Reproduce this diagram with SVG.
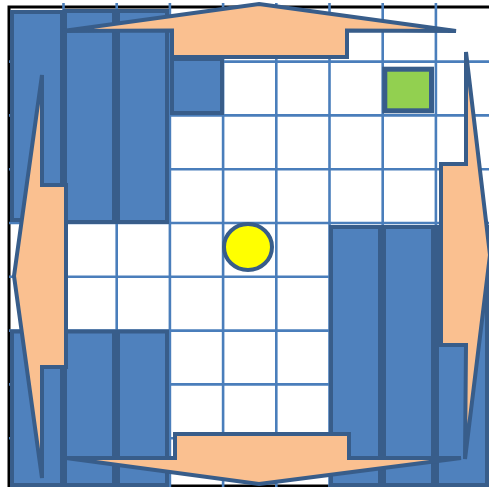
<svg xmlns="http://www.w3.org/2000/svg" width="489" height="487" viewBox="0 0 489 487">
<style>
.grid{stroke:#4A7EBB;stroke-width:2.6;fill:none}
.wall{fill:#4F81BD;stroke:#385D8A;stroke-width:4}
.arrow{fill:#FAC090;stroke:#385D8A;stroke-width:4;stroke-linejoin:miter;stroke-miterlimit:6}
</style>
<rect x="0" y="0" width="489" height="487" fill="#FFFFFF"/>
<rect id="frame" x="9" y="7" width="500" height="479" fill="none" stroke="#000000" stroke-width="3"/>
<g id="grid" class="grid">
<line x1="63.5" y1="3" x2="63.5" y2="487"/>
<line x1="116.7" y1="3" x2="116.7" y2="487"/>
<line x1="169.9" y1="3" x2="169.9" y2="487"/>
<line x1="223.1" y1="3" x2="223.1" y2="487"/>
<line x1="276.3" y1="3" x2="276.3" y2="487"/>
<line x1="329.5" y1="3" x2="329.5" y2="487"/>
<line x1="382.7" y1="3" x2="382.7" y2="487"/>
<line x1="435.9" y1="3" x2="435.9" y2="487"/>
<line x1="9" y1="61.6" x2="489" y2="61.6"/>
<line x1="9" y1="115.4" x2="489" y2="115.4"/>
<line x1="9" y1="169.2" x2="489" y2="169.2"/>
<line x1="9" y1="223" x2="489" y2="223"/>
<line x1="9" y1="276.8" x2="489" y2="276.8"/>
<line x1="9" y1="330.6" x2="489" y2="330.6"/>
<line x1="9" y1="384.4" x2="489" y2="384.4"/>
<line x1="9" y1="438.2" x2="489" y2="438.2"/>
</g>
<g id="wall-a"><rect class="wall" x="12" y="12" width="50" height="208"/></g>
<g id="wall-b"><rect class="wall" x="65" y="11" width="49" height="211"/></g>
<g id="wall-c"><rect class="wall" x="118" y="11" width="49" height="211"/></g>
<g id="wall-d"><rect class="wall" x="172" y="59" width="50" height="54"/></g>
<g id="wall-a2"><rect class="wall" x="12" y="331.5" width="50" height="153.5"/></g>
<g id="wall-b2"><rect class="wall" x="65" y="331.5" width="49" height="153.5"/></g>
<g id="wall-c2"><rect class="wall" x="118" y="331.5" width="49" height="153.5"/></g>
<g id="wall-e"><rect class="wall" x="331" y="227" width="49" height="258"/></g>
<g id="wall-f"><rect class="wall" x="384" y="227" width="49" height="258"/></g>
<g id="wall-g"><rect class="wall" x="437" y="227" width="50" height="258"/></g>
<g id="goal"><rect x="384.8" y="69.2" width="46.7" height="41.6" fill="#92D050" stroke="#385D8A" stroke-width="5"/></g>
<g id="agent"><ellipse cx="248" cy="247" rx="24" ry="23" fill="#FFFF00" stroke="#385D8A" stroke-width="4"/></g>
<g id="arrow-up"><polygon class="arrow" points="259,4 456,31 347,30.5 347,57 172,57 172,30.5 63,31"/></g>
<g id="arrow-down"><polygon class="arrow" points="259,484 461,458 349,458 349,434 175,434 175,458 66,458"/></g>
<g id="arrow-left"><polygon class="arrow" points="14,276 42,75 42,185 66,185 66,367 42,367 42,478"/></g>
<g id="arrow-right"><polygon class="arrow" points="490,255 466,52 466,164 441,164 441,345 466,345 465,459"/></g>
</svg>
